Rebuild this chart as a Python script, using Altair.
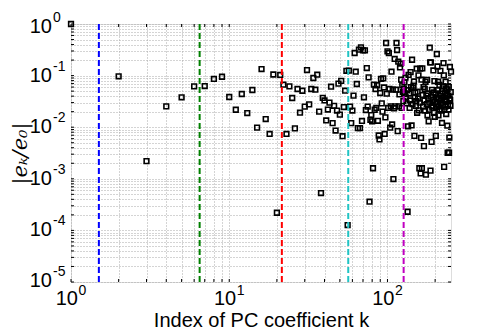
import altair as alt
import pandas as pd

# |e_k / e_0| for PC coefficient index k = 1..252
values = [
    1.0, 0.097, 0.0022, 0.0253, 0.038, 0.0618, 0.0627, 0.086, 0.095, 0.0385,
    0.0218, 0.044, 0.0188, 0.0526, 0.0098, 0.134, 0.0144, 0.0074, 0.105, 0.00022,
    0.103, 0.0667, 0.0074, 0.0618, 0.0368, 0.0095, 0.055, 0.0191, 0.0509, 0.025,
    0.128, 0.0277, 0.055, 0.0898, 0.0533, 0.104, 0.02, 0.00053, 0.037, 0.033,
    0.0135, 0.022, 0.030, 0.061, 0.012, 0.026, 0.0086, 0.021, 0.07, 0.0175,
    0.079, 0.0067, 0.0246, 0.051, 0.124, 0.000127, 0.125, 0.025, 0.012, 0.021,
    0.041, 0.274, 0.119, 0.0687, 0.0096, 0.318, 0.0096, 0.352, 0.0132, 0.308,
    0.038, 0.308, 0.0215, 0.14, 0.025, 0.0925, 0.00036, 0.0139, 0.0172, 0.013,
    0.0016, 0.0667, 0.0218, 0.055, 0.0236, 0.065, 0.0133, 0.0069, 0.0058, 0.046,
    0.086, 0.029, 0.02, 0.0883, 0.059, 0.0074, 0.0155, 0.428, 0.0446, 0.295,
    0.0236, 0.274, 0.055, 0.0098, 0.0253, 0.119, 0.0113, 0.0533, 0.00099, 0.0233,
    0.21, 0.0253, 0.0533, 0.428, 0.313, 0.0084, 0.186, 0.0253, 0.0432, 0.144,
    0.17, 0.0833, 0.0236, 0.065, 0.048, 0.032, 0.056, 0.074, 0.044, 0.091,
    0.038, 0.029, 0.052, 0.00023, 0.0104, 0.103, 0.045, 0.0236, 0.033, 0.117,
    0.06, 0.0108, 0.203, 0.028, 0.058, 0.064, 0.077, 0.0068, 0.0378, 0.047,
    0.026, 0.032, 0.136, 0.019, 0.0488, 0.036, 0.101, 0.0212, 0.0016, 0.03,
    0.136, 0.00127, 0.0062, 0.0833, 0.0016, 0.138, 0.042, 0.025, 0.06, 0.0043,
    0.033, 0.055, 0.021, 0.076, 0.0012, 0.041, 0.028, 0.083, 0.017, 0.045,
    0.036, 0.013, 0.0218, 0.03, 0.347, 0.18, 0.00144, 0.18, 0.039, 0.0052,
    0.053, 0.024, 0.026, 0.034, 0.126, 0.047, 0.019, 0.0785, 0.0159, 0.031,
    0.043, 0.0068, 0.0246, 0.037, 0.262, 0.028, 0.15, 0.052, 0.076, 0.017,
    0.0253, 0.036, 0.0658, 0.022, 0.045, 0.124, 0.029, 0.04, 0.034, 0.021,
    0.0121, 0.05, 0.027, 0.062, 0.038, 0.175, 0.101, 0.0017, 0.0218, 0.033,
    0.045, 0.025, 0.076, 0.0566, 0.018, 0.0316, 0.042, 0.054, 0.0107, 0.0032,
    0.028, 0.041, 0.022, 0.06, 0.0032, 0.0063, 0.036, 0.147, 0.034, 0.026,
    0.048, 0.119,
]
k_index = list(range(1, len(values) + 1))

# order boundaries (dashed vertical lines)
order_bounds = [1.5, 6.5, 21.5, 56.5, 126.5]
order_colors = ["#0000ff", "#008000", "#ff0000", "#20c4c4", "#c000c0"]

# tick / grid positions
x_exps = [0, 1, 2]
y_exps = [0, -1, -2, -3, -4, -5]
y_label_shift = [3, 0, 0, 0, 0, -1]
x_grid = [1, 2, 3, 4, 5, 6, 7, 8, 9, 10, 20, 30, 40, 50, 60, 70, 80, 90, 100, 200]
y_grid = [m * 10.0 ** e for e in [-5, -4, -3, -2, -1] for m in range(1, 10)] + [1.0]

W, H = 380, 258
FONT = "Liberation Sans"

pts = pd.DataFrame({"k": k_index, "v": values})
lines = pd.DataFrame({"x": order_bounds, "c": order_colors})
xg = pd.DataFrame({"x": x_grid})
yg = pd.DataFrame({"y": y_grid})
xl = pd.DataFrame({"x": [10.0 ** e for e in x_exps], "e": [str(e) for e in x_exps]})

xs = alt.Scale(type="log", domain=[1, 252], nice=False)
ys = alt.Scale(type="log", domain=[1e-5, 1], nice=False)

grid_kw = dict(grid=True, gridDash=[1, 2], gridColor="#a8a8a8", gridWidth=1,
               labels=False, ticks=False, domain=False)

points = alt.Chart(pts).mark_point(
    shape="square", filled=False, color="black", size=22, strokeWidth=1.6, opacity=1
).encode(
    x=alt.X("k:Q", scale=xs, axis=alt.Axis(
        values=x_grid, title="Index of PC coefficient k", titleFont=FONT,
        titleFontSize=20, titleFontWeight="normal", titleColor="black",
        titlePadding=28, **grid_kw)),
    y=alt.Y("v:Q", scale=ys, axis=alt.Axis(
        values=y_grid, title="|eₖ/e₀|", titleFont="DejaVu Serif",
        titleFontStyle="italic", titleFontSize=21, titleFontWeight="normal",
        titleColor="black", titlePadding=41, **grid_kw)),
)

vlines = alt.Chart(lines).mark_rule(strokeDash=[6, 3], strokeWidth=2).encode(
    x=alt.X("x:Q", scale=xs),
    color=alt.Color("c:N", scale=None),
)

tick_len = 3
xt_bot = alt.Chart(xg).mark_rule(color="black", strokeWidth=1).encode(
    x=alt.X("x:Q", scale=xs), y=alt.value(H), y2=alt.value(H - tick_len))
xt_top = alt.Chart(xg).mark_rule(color="black", strokeWidth=1).encode(
    x=alt.X("x:Q", scale=xs), y=alt.value(0), y2=alt.value(tick_len))
yt_left = alt.Chart(yg).mark_rule(color="black", strokeWidth=1).encode(
    y=alt.Y("y:Q", scale=ys), x=alt.value(0), x2=alt.value(tick_len))
yt_right = alt.Chart(yg).mark_rule(color="black", strokeWidth=1).encode(
    y=alt.Y("y:Q", scale=ys), x=alt.value(W), x2=alt.value(W - tick_len))

y_label_layers = []
for e, s in zip(y_exps, y_label_shift):
    d = pd.DataFrame({"y": [10.0 ** e], "e": [str(e)]})
    y_label_layers.append(alt.Chart(d).mark_text(
        text="10", font=FONT, fontSize=20, align="right", baseline="middle",
        dy=s, color="black"
    ).encode(y=alt.Y("y:Q", scale=ys), x=alt.value(-19)))
    y_label_layers.append(alt.Chart(d).mark_text(
        font=FONT, fontSize=14, align="left", baseline="middle", dy=s - 9,
        color="black"
    ).encode(y=alt.Y("y:Q", scale=ys), x=alt.value(-18), text="e:N"))

x_base = alt.Chart(xl).mark_text(
    text="10", font=FONT, fontSize=20, align="right", baseline="middle", dx=7,
    color="black"
).encode(x=alt.X("x:Q", scale=xs), y=alt.value(H + 17))
x_sup = alt.Chart(xl).mark_text(
    font=FONT, fontSize=14, align="left", baseline="middle", dx=7.5, color="black"
).encode(x=alt.X("x:Q", scale=xs), y=alt.value(H + 9), text="e:N")

chart = alt.layer(
    points, vlines, xt_bot, xt_top, yt_left, yt_right, *y_label_layers, x_base, x_sup
).properties(
    width=W, height=H,
    autosize=alt.AutoSizeParams(type="none"),
    padding={"left": 63, "top": 16, "right": 39, "bottom": 50},
).configure_view(stroke="black", strokeWidth=1).configure(background="white")

chart.save("out.html", embed_options={"renderer": "svg", "actions": False})
